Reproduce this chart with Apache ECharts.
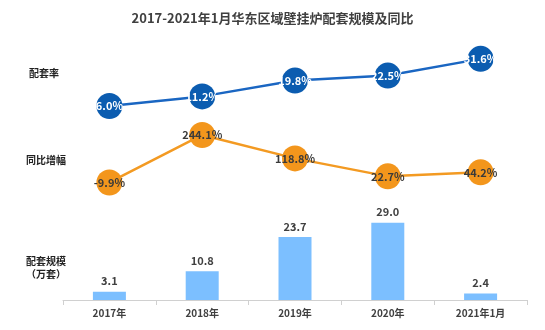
<!DOCTYPE html>
<html><head><meta charset="utf-8">
<script src="https://cdn.jsdelivr.net/npm/echarts@6/dist/echarts.min.js"></script>
<style>html,body{margin:0;padding:0;background:#fff}#c{width:545px;height:330px}</style>
</head><body><div id="c"></div>
<script>
const categories = ['2017年','2018年','2019年','2020年','2021年1月'];
const rateValues = [6.0, 11.2, 19.8, 22.5, 31.6];
const yoyValues = [-9.9, 244.1, 118.8, 22.7, 44.2];
const scaleValues = [3.1, 10.8, 23.7, 29.0, 2.4];
const rowNames = ['配套率', '同比增幅', '配套规模\n（万套）'];

const FONT = '"Noto Sans CJK SC", "Noto Sans", sans-serif';
const chart = echarts.init(document.getElementById('c'), null, {renderer:'canvas'});
const gridL = 63, gridR = 18;
const hiddenX = i => ({type:'category', gridIndex:i, data:categories, show:false, boundaryGap:true});
chart.setOption({
  backgroundColor:'#fff',
  animation:false,
  textStyle:{fontFamily:FONT},
  title:{text:'2017-2021年1月华东区域壁挂炉配套规模及同比', left:'center', top:7,
    textStyle:{fontFamily:FONT, fontSize:13, fontWeight:'bold', color:'#404040'}},
  graphic:[
    {type:'text', left:29, top:68, style:{text:rowNames[0], font:'bold 10px '+FONT, fill:'#222'}},
    {type:'text', left:26, top:155, style:{text:rowNames[1], font:'bold 10px '+FONT, fill:'#222'}},
    {type:'text', left:26, top:255, style:{text:rowNames[2], font:'bold 10px '+FONT, fill:'#222', lineHeight:13, align:'center', x:18}}
  ],
  grid:[
    {left:gridL, right:gridR, top:43.4, height:73.6},
    {left:gridL, right:gridR, top:124.5, height:74.8},
    {left:gridL, right:gridR, top:193.5, height:106.5}
  ],
  xAxis:[hiddenX(0), hiddenX(1), {
    type:'category', gridIndex:2, data:categories,
    axisLine:{lineStyle:{color:'#d0d0d0'}},
    axisTick:{show:true, lineStyle:{color:'#d0d0d0'}},
    axisLabel:{fontFamily:FONT, fontSize:10, fontWeight:'bold', color:'#404040', margin:8}
  }],
  yAxis:[
    {type:'value', gridIndex:0, min:0, max:40, show:false, splitLine:{show:false}},
    {type:'value', gridIndex:1, min:-100, max:300, show:false, splitLine:{show:false}},
    {type:'value', gridIndex:2, min:0, max:40, show:false, splitLine:{show:false}}
  ],
  series:[
    {type:'line', xAxisIndex:0, yAxisIndex:0, data:rateValues, symbol:'circle', symbolSize:26,
      lineStyle:{color:'#1a66c2', width:2.5}, itemStyle:{color:'#0b5cb0'},
      label:{show:true, position:'inside', formatter:p=>p.value.toFixed(1)+'%',
        fontFamily:FONT, fontSize:11, fontWeight:'bold', color:'#fff'}},
    {type:'line', xAxisIndex:1, yAxisIndex:1, data:yoyValues, symbol:'circle', symbolSize:26,
      lineStyle:{color:'#f39a22', width:2.5}, itemStyle:{color:'#f3961c'},
      label:{show:true, position:'inside', formatter:p=>p.value.toFixed(1)+'%',
        fontFamily:FONT, fontSize:11, fontWeight:'bold', color:'#3a3a3a'}},
    {type:'bar', xAxisIndex:2, yAxisIndex:2, data:scaleValues, barWidth:33,
      itemStyle:{color:'#7cbfff'},
      label:{show:true, position:'top', distance:5, formatter:p=>p.value.toFixed(1),
        fontFamily:FONT, fontSize:11, fontWeight:'bold', color:'#404040'}}
  ]
});
</script></body></html>
